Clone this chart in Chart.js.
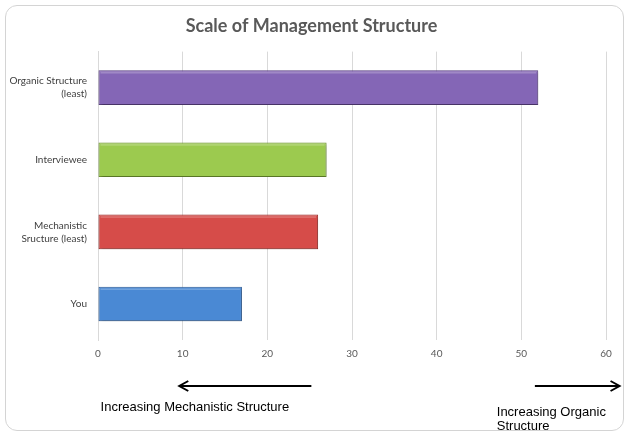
<!DOCTYPE html>
<html>
<head>
<meta charset="utf-8">
<script src="https://cdn.jsdelivr.net/npm/chart.js@4.4.1/dist/chart.umd.min.js"></script>
<style>
  html, body { margin: 0; padding: 0; background: #fff; }
  #wrap { position: relative; width: 630px; height: 437px; }
  #frame { position: absolute; left: 5px; top: 5px; width: 619px; height: 426px;
           border: 1px solid #d4d4d4; border-radius: 12px; box-sizing: border-box; pointer-events: none; }
  canvas { position: absolute; left: 0; top: 0; }
</style>
</head>
<body>
<div id="wrap">
  <canvas id="c" width="630" height="437"></canvas>
  <div id="frame"></div>
</div>
<script>
// ---- data ----
const categories = [["Organic Structure", "(least)"], "Interviewee", ["Mechanistic", "Sructure (least)"], "You"];
const values = [52, 27, 26, 17];
const xTicks = [0, 10, 20, 30, 40, 50, 60];
const chartTitle = "Scale of Management Structure";
const leftNote = "Increasing Mechanistic Structure";
const rightNote = ["Increasing Organic", "Structure"];

// ---- styles ----
const barStops = [
  ["#b198e2", "#8466b6", "#6e519b", "#5a4184"],
  ["#c6e67c", "#9cca4f", "#88b340", "#739833"],
  ["#f27a77", "#d64c49", "#c13e3b", "#a3322f"],
  ["#80b6f2", "#4a89d4", "#3d76be", "#3262a2"]
];
const barBorders = ["#5a4181", "#6f9430", "#9a2f2c", "#2f5c96"];

function barFill(ctx) {
  const chart = ctx.chart;
  const el = ctx.element;
  const stops = barStops[ctx.dataIndex];
  if (!chart.chartArea || !el || !isFinite(el.y) || !el.height) return stops[1];
  const top = el.y - el.height / 2, bot = el.y + el.height / 2;
  const g = chart.ctx.createLinearGradient(0, top, 0, bot);
  g.addColorStop(0, stops[0]);
  g.addColorStop(0.14, stops[1]);
  g.addColorStop(0.72, stops[2]);
  g.addColorStop(1, stops[3]);
  return g;
}

const shadowPlugin = {
  id: 'shadow',
  beforeDatasetsDraw(chart) {
    const c = chart.ctx;
    c.save();
    c.shadowColor = 'rgba(0,0,0,0.28)';
    c.shadowBlur = 3;
    c.shadowOffsetX = 1;
    c.shadowOffsetY = 2;
  },
  afterDatasetsDraw(chart) {
    chart.ctx.restore();
    const c = chart.ctx;
    const meta = chart.getDatasetMeta(0);
    c.save();
    meta.data.forEach((bar) => {
      const top = bar.y - bar.height / 2;
      c.strokeStyle = 'rgba(255,255,255,0.35)';
      c.lineWidth = 1;
      c.beginPath();
      c.moveTo(bar.base + 2, top + 2.5);
      c.lineTo(bar.x - 2, top + 2.5);
      c.stroke();
    });
    c.restore();
  }
};

const notesPlugin = {
  id: 'notes',
  afterDraw(chart) {
    const c = chart.ctx;
    const xs = chart.scales.x;
    const y = chart.chartArea.bottom + 46;
    c.save();
    c.strokeStyle = '#000';
    c.fillStyle = '#000';
    c.lineWidth = 2;
    function arrow(v1, v2) {
      const x1 = xs.getPixelForValue(v1), x2 = xs.getPixelForValue(v2);
      const dir = Math.sign(x2 - x1);
      c.beginPath();
      c.moveTo(x1, y);
      c.lineTo(x2 - dir * 1, y);
      c.stroke();
      c.beginPath();
      c.moveTo(x2 - dir * 9, y - 5);
      c.lineTo(x2, y);
      c.lineTo(x2 - dir * 9, y + 5);
      c.stroke();
    }
    arrow(25.2, 9.6);
    arrow(51.6, 61.6);
    c.font = '13px "Liberation Sans", Arial, sans-serif';
    c.textBaseline = 'alphabetic';
    c.textAlign = 'left';
    c.fillText(leftNote, xs.getPixelForValue(0.3), y + 25);
    c.fillText(rightNote[0], xs.getPixelForValue(47.1), y + 30);
    c.fillText(rightNote[1], xs.getPixelForValue(47.1), y + 44);
    c.restore();
  }
};

new Chart(document.getElementById('c'), {
  type: 'bar',
  data: {
    labels: categories,
    datasets: [{
      data: values,
      backgroundColor: barFill,
      borderColor: barBorders,
      borderWidth: 1,
      borderSkipped: false,
      barPercentage: 0.48,
      categoryPercentage: 1.0
    }]
  },
  options: {
    indexAxis: 'y',
    responsive: false,
    animation: false,
    devicePixelRatio: 1,
    layout: { padding: { top: 15, right: 15, bottom: 69, left: 8 } },
    plugins: {
      legend: { display: false },
      tooltip: { enabled: false },
      title: {
        display: true,
        text: chartTitle,
        color: '#595959',
        font: { family: 'Lato, "Open Sans", sans-serif', size: 18, weight: 'bold' },
        padding: { top: 0, bottom: 15 }
      }
    },
    scales: {
      x: {
        min: 0, max: 60,
        afterBuildTicks(scale) { scale.ticks = xTicks.map(v => ({ value: v })); },
        afterFit(scale) { scale.paddingRight = 24; },
        grid: { color: '#d9d9d9', drawTicks: false, lineWidth: 1 },
        border: { display: false },
        ticks: { color: '#595959', padding: 8, font: { family: 'Lato, "Open Sans", sans-serif', size: 10 } }
      },
      y: {
        grid: { display: false, drawTicks: false },
        border: { display: true, color: '#d9d9d9' },
        afterFit(scale) { scale.width = 90; },
        ticks: { color: '#404040', padding: 11, font: { family: 'Lato, "Open Sans", sans-serif', size: 10, lineHeight: 1.3 } }
      }
    }
  },
  plugins: [shadowPlugin, notesPlugin]
});
</script>
</body>
</html>
